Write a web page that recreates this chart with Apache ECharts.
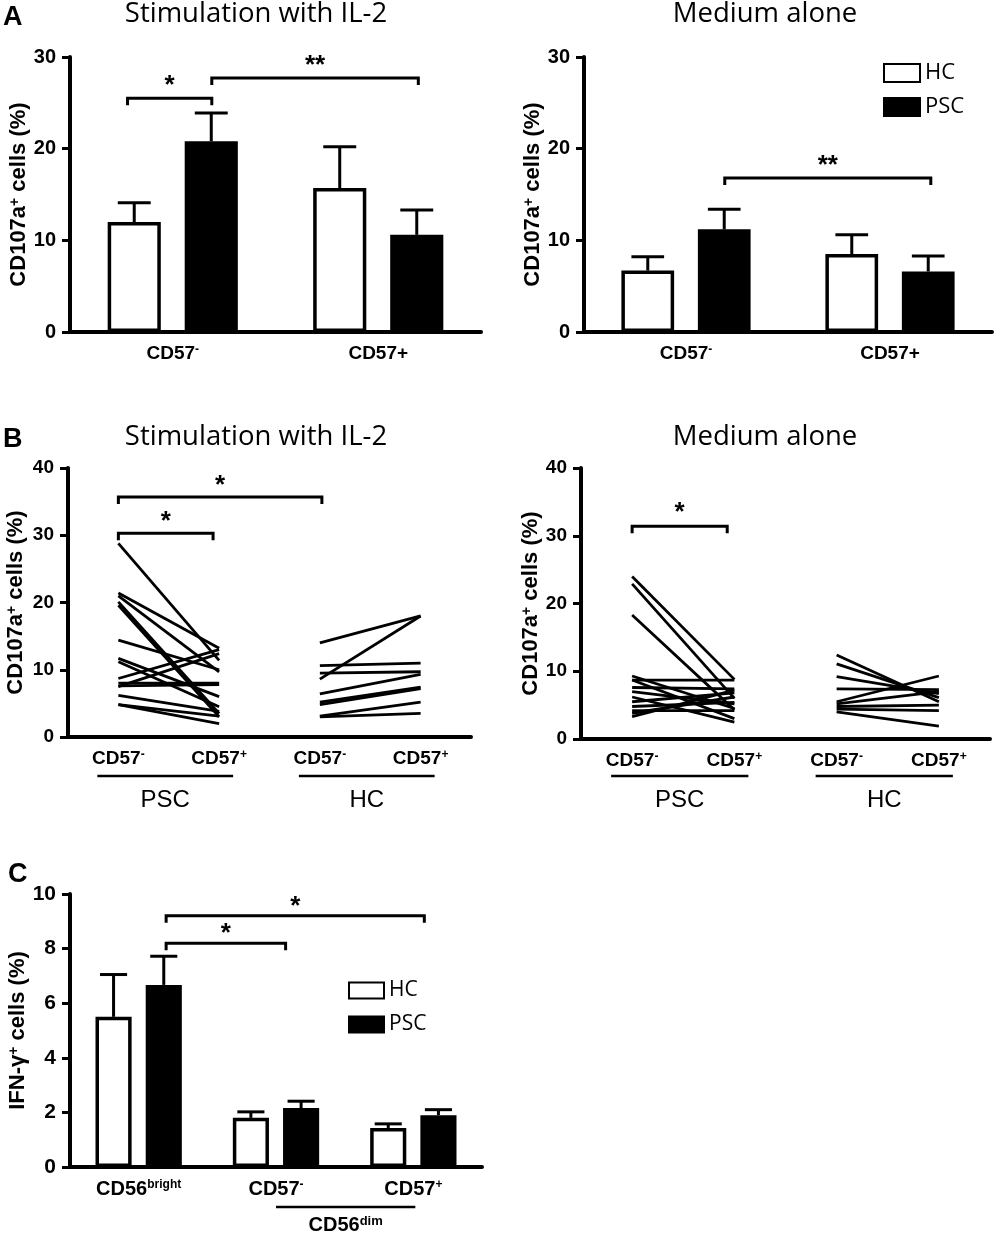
<!DOCTYPE html>
<html lang="en">
<head>
<meta charset="UTF-8">
<title>CD107a and IFN-gamma in NK subsets</title>
<style>
  html, body { margin: 0; padding: 0; background: #fff; }
  #main { width: 1000px; height: 1234px; }
</style>
</head>
<body>
<div id="main"></div>
<script src="https://cdn.jsdelivr.net/npm/echarts@6/dist/echarts.min.js"></script>
<script>
// ---- data ----
// panel A: CD107a+ (%) mean and SEM
var subsetsA = ['CD57^-', 'CD57+'];
var il2HC = [12.0, 15.7];
var il2HCsem = [2.1, 4.5];
var il2PSC = [20.8, 10.6];
var il2PSCsem = [3.1, 2.7];
var medHC = [6.7, 8.5];
var medHCsem = [1.5, 2.1];
var medPSC = [11.2, 6.6];
var medPSCsem = [2.2, 1.7];

// panel B: paired values per donor (CD57- -> CD57+)
var subsetsB = ['CD57^-', 'CD57^+', 'CD57^-', 'CD57^+'];
var il2PscNeg = [28.8, 21.4, 21.0, 20.1, 19.6, 14.4, 11.7, 11.2, 8.7, 8.0, 7.6, 7.5, 6.2, 4.8, 4.8];
var il2PscPos = [11.4, 13.2, 9.7, 3.5, 3.0, 10.0, 6.0, 4.5, 13.0, 8.0, 7.8, 12.4, 3.8, 3.1, 2.0];
var il2HcNeg = [14.0, 8.6, 10.6, 9.5, 6.4, 5.2, 4.8, 3.1, 3.0];
var il2HcPos = [18.0, 18.0, 11.0, 9.7, 9.3, 7.4, 7.2, 5.2, 3.5];
var medPscNeg = [24.0, 22.9, 18.3, 9.3, 8.7, 8.7, 7.6, 7.0, 6.2, 5.5, 4.8, 4.2, 3.8, 3.3];
var medPscPos = [8.8, 6.0, 4.3, 4.5, 8.7, 3.0, 7.4, 5.2, 2.5, 6.8, 5.4, 4.2, 6.2, 7.2];
var medHcNeg = [12.4, 11.1, 9.2, 7.4, 5.5, 5.2, 4.8, 4.4, 4.0];
var medHcPos = [5.5, 6.1, 6.7, 7.3, 9.3, 7.0, 5.0, 4.2, 1.9];
var groupsB = [[0, 1, 'PSC'], [2, 3, 'HC']];

// panel C: IFN-g+ (%) mean and SEM
var subsetsC = ['CD56^bright', 'CD57^-', 'CD57^+'];
var ifnHC = [5.5, 1.8, 1.43];
var ifnHCsem = [1.55, 0.22, 0.15];
var ifnPSC = [6.67, 2.16, 1.9];
var ifnPSCsem = [1.05, 0.25, 0.2];
var groupsC = [[1, 2, 'CD56^dim']];

// significance brackets: [from, to, level, label], from/to in category units
var il2Brackets = [[-0.22, 0.19, 25.5, '*'], [0.19, 1.195, 27.7, '**']];
var medBrackets = [[0.19, 1.2, 16.8, '**']];
var il2PairBrackets = [[0, 0.94, 30.3, '*'], [0, 2.02, 35.7, '*']];
var medPairBrackets = [[0, 0.93, 31.4, '*']];
var ifnBrackets = [[0.2, 1.07, 8.2, '*'], [0.2, 2.08, 9.2, '*']];

var BOLD = 'Liberation Sans';
var SANS = 'Open Sans';

function supText(v) {
    var i = v.indexOf('^');
    return i < 0 ? v : v.slice(0, i) + '{sup|' + v.slice(i + 1) + '}';
}
function supRich(size) {
    return { sup: { fontSize: size, fontWeight: 'bold', fontFamily: BOLD, color: '#000', verticalAlign: 'top' } };
}

function xAx(grid, cats, fs) {
    return {
        type: 'category', gridIndex: grid, data: cats,
        axisLine: { lineStyle: { color: '#000', width: 4 } },
        axisTick: { alignWithLabel: true, length: 7, lineStyle: { width: 3.5 } },
        axisLabel: {
            interval: 0, color: '#000', fontSize: fs, fontWeight: 'bold', fontFamily: BOLD, margin: 12,
            formatter: supText, rich: supRich(Math.round(fs * 0.62))
        }
    };
}
function yAx(grid, max, interval, name, gap, fs) {
    return {
        type: 'value', gridIndex: grid, min: 0, max: max, interval: interval,
        name: name, nameLocation: 'middle', nameGap: gap, nameRotate: 90,
        nameTextStyle: { color: '#000', fontSize: 22, fontWeight: 'bold', fontFamily: BOLD, rich: supRich(14) },
        axisLine: { show: true, lineStyle: { color: '#000', width: 4 } },
        axisTick: { show: true, length: 8, lineStyle: { width: 3 } },
        axisLabel: { color: '#000', fontSize: fs, fontWeight: 'bold', fontFamily: BOLD, margin: 14 },
        splitLine: { show: false }
    };
}

function barSeries(name, grid, values, geo) {
    return {
        type: 'bar', name: name, xAxisIndex: grid, yAxisIndex: grid, data: values,
        barWidth: (geo.bw * 100) + '%', barGap: (geo.gap * 100) + '%',
        itemStyle: { color: name === 'HC' ? '#fff' : '#000', borderColor: '#000', borderWidth: 3.5 },
        silent: true, z: 2
    };
}

function errSeries(grid, means, sems, side, geo) {
    return {
        type: 'custom', xAxisIndex: grid, yAxisIndex: grid, silent: true, z: 3,
        data: means.map(function (m, i) { return [i, m, sems[i]]; }),
        encode: { x: 0, y: 1 },
        renderItem: function (params, api) {
            var band = api.size([1, 0])[0];
            var bw = band * geo.bw;
            var off = side * bw * (1 + geo.gap) / 2;
            var base = api.coord([api.value(0), api.value(1)]);
            var top = api.coord([api.value(0), api.value(1) + api.value(2)]);
            var x = base[0] + off;
            var cap = bw * geo.cap / 2;
            return {
                type: 'group', children: [
                    { type: 'line', shape: { x1: x, y1: base[1], x2: x, y2: top[1] }, style: { stroke: '#000', lineWidth: 3 } },
                    { type: 'line', shape: { x1: x - cap, y1: top[1], x2: x + cap, y2: top[1] }, style: { stroke: '#000', lineWidth: 3 } }
                ]
            };
        }
    };
}

function bracketSeries(grid, list, drop, lift) {
    return {
        type: 'custom', xAxisIndex: grid, yAxisIndex: grid, silent: true, clip: false, z: 4,
        data: list.map(function (b) { return [0, b[2]]; }),
        encode: { x: 0, y: 1 },
        renderItem: function (params, api) {
            var b = list[params.dataIndex];
            var p0 = api.coord([0, b[2]]);
            var band = api.size([1, 0])[0];
            var x1 = p0[0] + b[0] * band, x2 = p0[0] + b[1] * band, y = p0[1];
            return {
                type: 'group', children: [
                    { type: 'polyline', shape: { points: [[x1, y + drop], [x1, y], [x2, y], [x2, y + drop]] },
                      style: { stroke: '#000', lineWidth: 3, fill: null } },
                    { type: 'text', style: { text: b[3], x: (x1 + x2) / 2, y: y - lift, align: 'center', verticalAlign: 'middle',
                      fontSize: 26, fontWeight: 'bold', fontFamily: BOLD, fill: '#000' } }
                ]
            };
        }
    };
}

function pairSeries(grid, cat, from, to) {
    return {
        type: 'custom', xAxisIndex: grid, yAxisIndex: grid, silent: true, z: 3,
        data: from.map(function (v, i) { return [cat, v, to[i]]; }),
        encode: { x: 0, y: 1 },
        renderItem: function (params, api) {
            var a = api.coord([api.value(0), api.value(1)]);
            var b = api.coord([api.value(0) + 1, api.value(2)]);
            return { type: 'line', shape: { x1: a[0], y1: a[1], x2: b[0], y2: b[1] },
                     style: { stroke: '#000', lineWidth: 2.8 } };
        }
    };
}

function groupSeries(grid, groups, lineDy, textDy, padL, padR, fs, bold) {
    return {
        type: 'custom', xAxisIndex: grid, yAxisIndex: grid, silent: true, clip: false,
        data: groups.map(function (g) { return [g[0], 0]; }),
        encode: { x: 0, y: 1 },
        renderItem: function (params, api) {
            var g = groups[params.dataIndex];
            var a = api.coord([g[0], 0]), b = api.coord([g[1], 0]);
            var x1 = a[0] - padL, x2 = b[0] + padR, y = a[1];
            return {
                type: 'group', children: [
                    { type: 'line', shape: { x1: x1, y1: y + lineDy, x2: x2, y2: y + lineDy }, style: { stroke: '#000', lineWidth: 2.5 } },
                    { type: 'text', style: { text: supText(g[2]), x: (x1 + x2) / 2, y: y + textDy, align: 'center', verticalAlign: 'middle',
                      fontSize: fs, fontWeight: bold ? 'bold' : 'normal', fontFamily: BOLD, fill: '#000', rich: supRich(13) } }
                ]
            };
        }
    };
}

var geoA = { bw: 0.2585, gap: 0.45, cap: 0.62 };
var geoC = { bw: 0.263, gap: 0.39, cap: 0.75 };
var cd107 = 'CD107a{sup|+} cells (%)';

var titleFont = { fontSize: 27.5, fontWeight: 'normal', fontFamily: SANS, color: '#000' };
var letterFont = { fontSize: 27, fontWeight: 'bold', fontFamily: BOLD, color: '#000' };
function legendAt(left, top, w, h, gap, fs) {
    return {
        data: ['HC', 'PSC'], orient: 'vertical', left: left, top: top, padding: 0,
        itemWidth: w, itemHeight: h, itemGap: gap, icon: 'rect', selectedMode: false,
        textStyle: { fontSize: fs, fontFamily: SANS, color: '#000', lineHeight: h }
    };
}

var myChart = echarts.init(document.getElementById('main'), null, { renderer: 'canvas' });
var option = {
    backgroundColor: '#fff',
    animation: false,
    title: [
        { text: 'A', left: 3, top: 4, padding: 0, textStyle: letterFont },
        { text: 'Stimulation with IL-2', left: 256, top: 0, padding: 0, textAlign: 'center', textStyle: titleFont },
        { text: 'Medium alone', left: 765, top: 0, padding: 0, textAlign: 'center', textStyle: titleFont },
        { text: 'B', left: 3, top: 426, padding: 0, textStyle: letterFont },
        { text: 'Stimulation with IL-2', left: 256, top: 423, padding: 0, textAlign: 'center', textStyle: titleFont },
        { text: 'Medium alone', left: 765, top: 423, padding: 0, textAlign: 'center', textStyle: titleFont },
        { text: 'C', left: 8, top: 861, padding: 0, textStyle: letterFont }
    ],
    legend: [legendAt(883, 62, 36, 18, 12, 22), legendAt(348, 980, 35, 16, 13, 21)],
    grid: [
        { left: 70, top: 57, width: 411, height: 275 },
        { left: 584, top: 57, width: 408, height: 275 },
        { left: 68, top: 468, width: 403, height: 269 },
        { left: 581, top: 468, width: 409, height: 271 },
        { left: 70, top: 894, width: 412, height: 273 }
    ],
    xAxis: [
        xAx(0, subsetsA, 19), xAx(1, subsetsA, 19),
        xAx(2, subsetsB, 19), xAx(3, subsetsB, 19),
        xAx(4, subsetsC, 20)
    ],
    yAxis: [
        yAx(0, 30, 10, cd107, 35, 20), yAx(1, 30, 10, cd107, 40, 20),
        yAx(2, 40, 10, cd107, 41, 19), yAx(3, 40, 10, cd107, 39, 19),
        yAx(4, 10, 2, 'IFN-\u03b3{sup|+} cells (%)', 35, 21)
    ],
    series: [
        barSeries('HC', 0, il2HC, geoA), barSeries('PSC', 0, il2PSC, geoA),
        errSeries(0, il2HC, il2HCsem, -1, geoA), errSeries(0, il2PSC, il2PSCsem, 1, geoA),
        bracketSeries(0, il2Brackets, 7, 12),

        barSeries('HC', 1, medHC, geoA), barSeries('PSC', 1, medPSC, geoA),
        errSeries(1, medHC, medHCsem, -1, geoA), errSeries(1, medPSC, medPSCsem, 1, geoA),
        bracketSeries(1, medBrackets, 7, 12),

        pairSeries(2, 0, il2PscNeg, il2PscPos), pairSeries(2, 2, il2HcNeg, il2HcPos),
        bracketSeries(2, il2PairBrackets, 7, 11),
        groupSeries(2, groupsB, 39, 63, 21, 14, 24, false),

        pairSeries(3, 0, medPscNeg, medPscPos), pairSeries(3, 2, medHcNeg, medHcPos),
        bracketSeries(3, medPairBrackets, 7, 13),
        groupSeries(3, groupsB, 37, 61, 21, 14, 24, false),

        barSeries('HC', 4, ifnHC, geoC), barSeries('PSC', 4, ifnPSC, geoC),
        errSeries(4, ifnHC, ifnHCsem, -1, geoC), errSeries(4, ifnPSC, ifnPSCsem, 1, geoC),
        bracketSeries(4, ifnBrackets, 7, 9),
        groupSeries(4, groupsC, 40, 58, 0, 2, 20, true)
    ]
};
myChart.setOption(option);
</script>
</body>
</html>
